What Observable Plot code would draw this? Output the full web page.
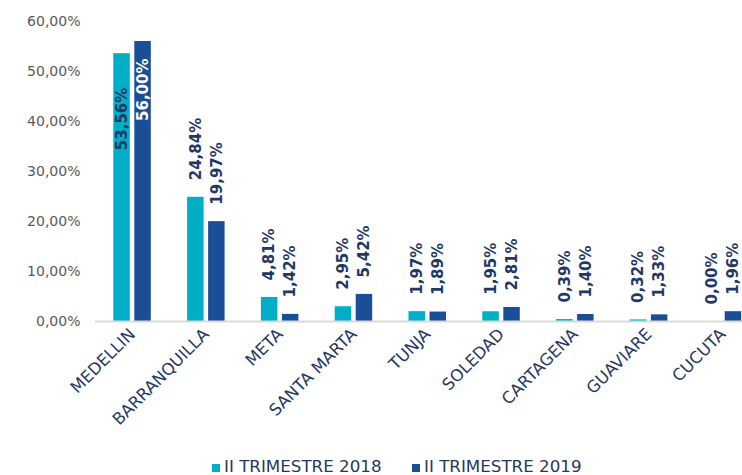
<!DOCTYPE html>
<html>
<head>
<meta charset="utf-8">
<script src="https://cdn.jsdelivr.net/npm/d3@7"></script>
<script src="https://cdn.jsdelivr.net/npm/@observablehq/plot@0.6"></script>
<style>
  html, body { margin: 0; padding: 0; background: #fff; overflow: hidden; }
  #chart svg { display: block; }
  .legend { font-family: "DejaVu Sans", Verdana, sans-serif; font-size: 16.7px; line-height: 18px; color: #1F3864; height: 20px; position: relative; }
  .legend .item { position: absolute; top: 2px; display: flex; align-items: center; white-space: nowrap; }
  .legend .sw { width: 8px; height: 8px; margin-right: 4px; margin-top: 4px; }
</style>
</head>
<body>
<div id="chart"></div>
<script>
const cities = ["MEDELLIN", "BARRANQUILLA", "META", "SANTA MARTA", "TUNJA", "SOLEDAD", "CARTAGENA", "GUAVIARE", "CUCUTA"];
const s2018 = [53.56, 24.84, 4.81, 2.95, 1.97, 1.95, 0.39, 0.32, 0.00];
const s2019 = [56.00, 19.97, 1.42, 5.42, 1.89, 2.81, 1.40, 1.33, 1.96];
const seriesNames = ["II TRIMESTRE 2018", "II TRIMESTRE 2019"];
const seriesColors = ["#00AEC8", "#1A4F97"];
const yTicks = [0, 10, 20, 30, 40, 50, 60];

const fmt = v => v.toFixed(2).replace(".", ",") + "%";
const rows = [];
cities.forEach((c, i) => {
  rows.push({city: c, series: seriesNames[0], s: 0, v: s2018[i]});
  rows.push({city: c, series: seriesNames[1], s: 1, v: s2019[i]});
});
const r18 = rows.filter(d => d.s === 0);
const r19 = rows.filter(d => d.s === 1);
const font = '"DejaVu Sans", Verdana, sans-serif';

const chart = Plot.plot({
  width: 742,
  height: 455,
  marginTop: 21,
  marginBottom: 134,
  marginLeft: 95,
  marginRight: 0,
  style: {fontFamily: font, background: "#fff", overflow: "visible"},
  x: {domain: cities, range: [95, 759.5], paddingInner: 0.492, paddingOuter: 0.248, round: false, label: null},
  y: {domain: [0, 60], label: null},
  marks: [
    Plot.barY(r18, {x: "city", y: "v", fill: seriesColors[0], insetRight: 21, insetLeft: 0}),
    Plot.barY(r19, {x: "city", y: "v", fill: seriesColors[1], insetLeft: 21, insetRight: 0}),
    Plot.ruleY([0], {stroke: "#D9D9D9", strokeWidth: 2}),
    Plot.axisY({ticks: yTicks, tickFormat: fmt, tickSize: 0, tickPadding: 15, fontSize: 14, fill: "#595959", label: null}),
    Plot.axisX({tickSize: 0, tickRotate: -45, tickPadding: 10, fontSize: 16.5, fill: "#1F3864", label: null}),
    // outside labels
    Plot.text(r18.filter(d => d.v < 50), {x: "city", y: "v", text: d => fmt(d.v), rotate: -90, textAnchor: "start", dx: -10.5, dy: -17, fill: "#1F3864", fontSize: 15, fontWeight: "bold"}),
    Plot.text(r19.filter(d => d.v < 50), {x: "city", y: "v", text: d => fmt(d.v), rotate: -90, textAnchor: "start", dx: 10.5, dy: -17, fill: "#1F3864", fontSize: 15, fontWeight: "bold"}),
    // inside labels (too tall to fit above)
    Plot.text(r18.filter(d => d.v >= 50), {x: "city", y: "v", text: d => fmt(d.v), rotate: -90, textAnchor: "end", dx: -10.5, dy: 34, fill: "#1F3864", fontSize: 15, fontWeight: "bold"}),
    Plot.text(r19.filter(d => d.v >= 50), {x: "city", y: "v", text: d => fmt(d.v), rotate: -90, textAnchor: "end", dx: 10.5, dy: 17, fill: "#FFFFFF", fontSize: 15, fontWeight: "bold"})
  ]
});
document.getElementById("chart").appendChild(chart);

const legend = document.createElement("div");
legend.className = "legend";
const lefts = [212, 412];
seriesNames.forEach((name, i) => {
  const item = document.createElement("div");
  item.className = "item";
  item.style.left = lefts[i] + "px";
  const sw = document.createElement("span");
  sw.className = "sw";
  sw.style.background = seriesColors[i];
  const t = document.createElement("span");
  t.textContent = name;
  item.appendChild(sw);
  item.appendChild(t);
  legend.appendChild(item);
});
document.body.appendChild(legend);
</script>
</body>
</html>
